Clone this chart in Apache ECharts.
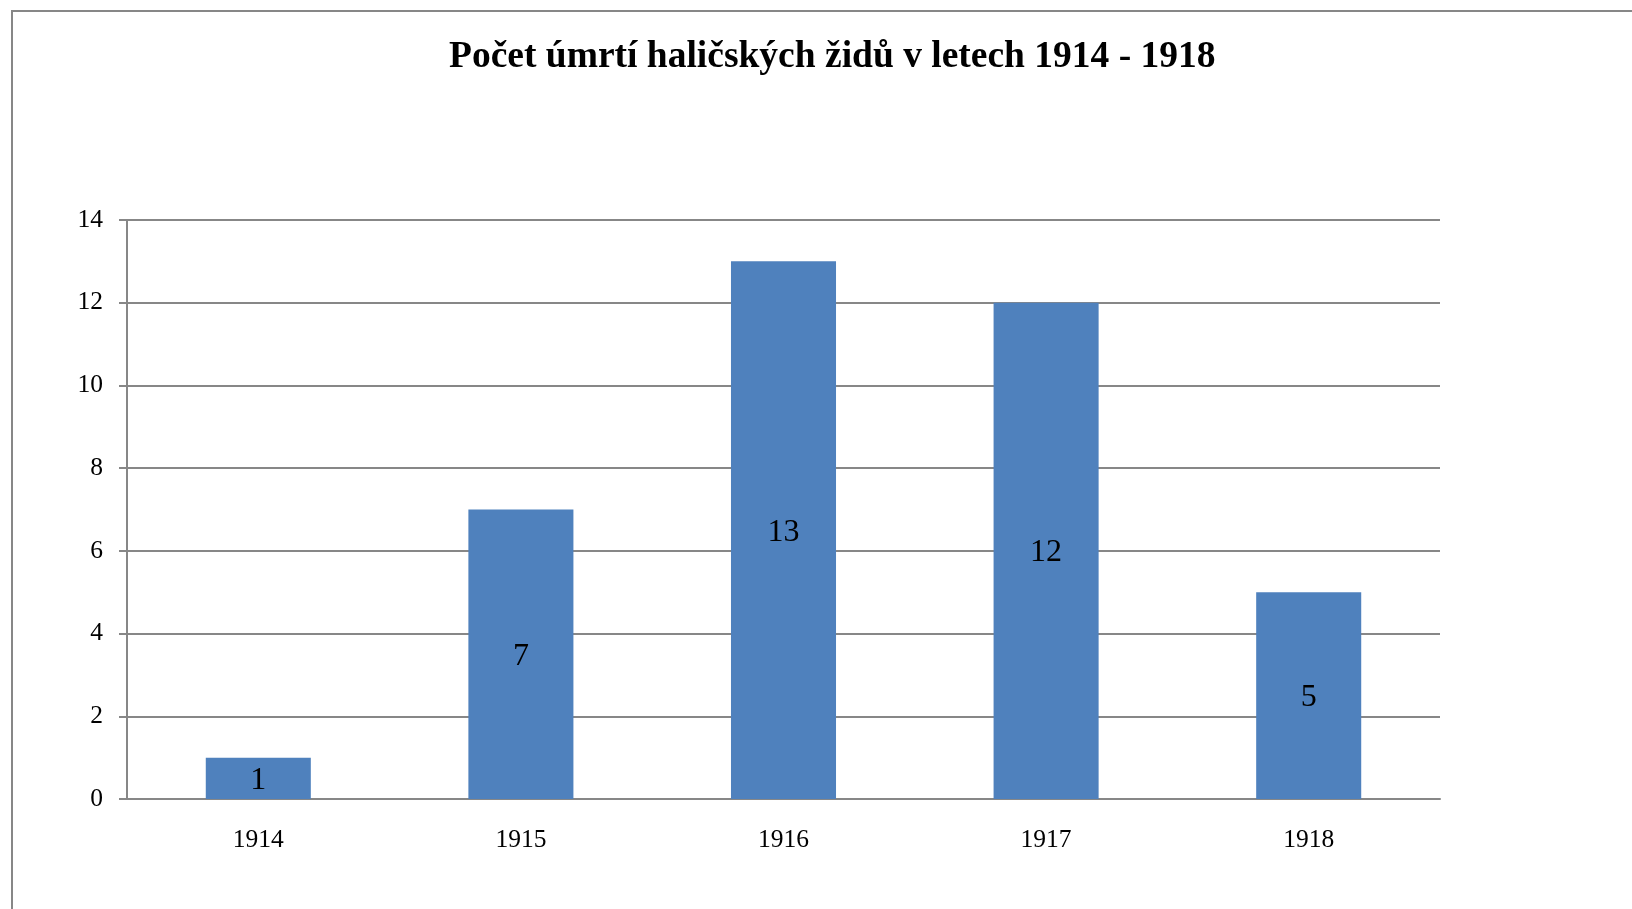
<!doctype html>
<html lang="cs">
<head>
    <meta charset="UTF-8">
    <title>Počet úmrtí haličských židů</title>
    <style>
        html, body { margin: 0; padding: 0; background: #fff; }
        #chart { width: 1632px; height: 909px; }
    </style>
</head>
<body>
<div id="chart"></div>
<script src="https://cdn.jsdelivr.net/npm/echarts@6/dist/echarts.min.js"></script>
<script>
    // data
    var years = ['1914', '1915', '1916', '1917', '1918'];
    var deaths = [1, 7, 13, 12, 5];
    var yTicks = [0, 2, 4, 6, 8, 10, 12, 14];

    var serif = '"Liberation Serif", "DejaVu Serif", serif';
    var gray = '#878787';

    var myChart = echarts.init(document.getElementById('chart'));
    myChart.setOption({
        animation: false,
        title: {
            text: 'Počet úmrtí haličských židů v letech 1914 - 1918',
            left: 444,
            top: 33,
            textStyle: {
                fontFamily: serif,
                fontWeight: 'bold',
                fontSize: 37.5,
                color: '#000'
            }
        },
        graphic: [{
            type: 'rect',
            shape: { x: 12, y: 11, width: 1700, height: 1000 },
            style: { fill: 'none', stroke: gray, lineWidth: 2 },
            silent: true
        }],
        grid: {
            left: 127,
            right: 192,
            top: 220,
            bottom: 110
        },
        xAxis: {
            type: 'category',
            data: years,
            axisLine: { lineStyle: { color: gray, width: 2 } },
            axisTick: { length: 8, lineStyle: { color: gray, width: 2 } },
            axisLabel: {
                fontFamily: serif,
                fontSize: 25.5,
                color: '#000',
                margin: 28
            }
        },
        yAxis: {
            type: 'value',
            min: yTicks[0],
            max: yTicks[yTicks.length - 1],
            interval: yTicks[1] - yTicks[0],
            axisLine: { show: true, lineStyle: { color: gray, width: 2 } },
            axisTick: { show: true, length: 8, lineStyle: { color: gray, width: 2 } },
            splitLine: { lineStyle: { color: gray, width: 2 } },
            axisLabel: {
                fontFamily: serif,
                fontSize: 25.5,
                color: '#000',
                margin: 24
            }
        },
        series: [{
            name: 'Počet úmrtí',
            type: 'bar',
            data: deaths,
            barWidth: '40%',
            itemStyle: { color: '#4F81BD' },
            label: {
                show: true,
                position: 'inside',
                offset: [0, 2],
                fontFamily: serif,
                fontSize: 32,
                color: '#000'
            }
        }]
    });
</script>
</body>
</html>
